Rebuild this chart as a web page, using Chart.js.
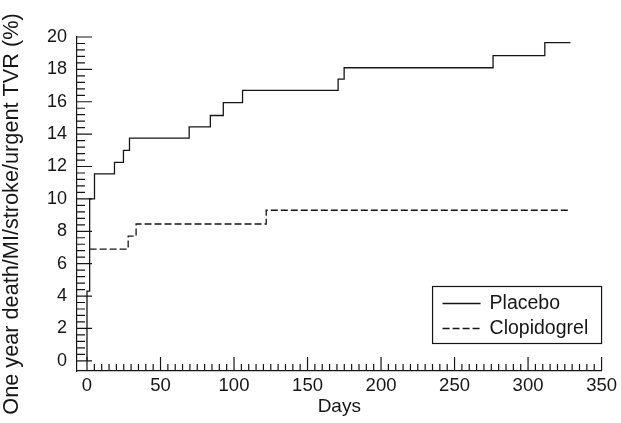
<!DOCTYPE html>
<html>
<head>
<meta charset="utf-8">
<script src="https://cdn.jsdelivr.net/npm/chart.js@4/dist/chart.umd.min.js"></script>
<style>
  html, body { margin: 0; padding: 0; background: #fff; }
  canvas { display: block; }
</style>
</head>
<body>
<canvas id="c" width="621" height="423"></canvas>
<script>
// ---- data ----
const placeboDays  = [0, 0, 1.8, 5.1, 18.7, 24.8, 28.9, 69.5, 83.9, 92.7, 105.8, 170.8, 174.9, 276.2, 311.4, 328.8];
const placeboRates = [0, 4.3, 10.0, 11.55, 12.25, 13.0, 13.75, 14.45, 15.15, 15.95, 16.7, 17.4, 18.1, 18.85, 19.65, 19.65];
const clopDays  = [1.8, 28.0, 33.4, 121.9, 328.8];
const clopRates = [6.9, 7.7, 8.45, 9.3, 9.3];
const seriesNames = ['Placebo', 'Clopidogrel'];
const xTickLabels = [0, 50, 100, 150, 200, 250, 300, 350];
const yTickLabels = [0, 2, 4, 6, 8, 10, 12, 14, 16, 18, 20];
const xTitle = 'Days';
const yTitle = 'One year death/MI/stroke/urgent TVR (%)';

const FONT = '"Liberation Sans", Arial, sans-serif';
const INK = '#161616';

const toPoints = (xs, ys) => xs.map((d, i) => ({ x: d, y: ys[i] }));

// minor / major tick marks pointing into the plot
const axisTicks = {
  id: 'axisTicks',
  afterDraw(chart) {
    const { ctx, chartArea: ca, scales: { x, y } } = chart;
    ctx.save();
    ctx.strokeStyle = INK;
    ctx.lineWidth = 1.2;
    ctx.beginPath();
    for (let i = 0; i <= 50; i++) {
      const py = y.getPixelForValue(i * 0.4);
      const len = (i % 5 === 0) ? 15 : 8;
      ctx.moveTo(ca.left, py);
      ctx.lineTo(ca.left + len, py);
    }
    for (let i = 0; i <= 70; i++) {
      const px = x.getPixelForValue(i * 5);
      const len = (i % 10 === 0) ? 14 : 7;
      ctx.moveTo(px, ca.bottom);
      ctx.lineTo(px, ca.bottom - len);
    }
    ctx.stroke();

    // rotated y-axis title
    ctx.fillStyle = INK;
    ctx.font = '21.7px ' + FONT;
    ctx.textAlign = 'center';
    ctx.textBaseline = 'middle';
    ctx.translate(12.5, 214);
    ctx.rotate(-Math.PI / 2);
    ctx.fillText(yTitle, 0, 0);
    ctx.restore();
  }
};

// boxed legend in the lower right of the plot
const boxLegend = {
  id: 'boxLegend',
  afterDraw(chart) {
    const { ctx, chartArea: ca } = chart;
    const w = 169, h = 57;
    const left = ca.right - w, top = ca.bottom - 27.5 - h;
    ctx.save();
    ctx.strokeStyle = INK;
    ctx.lineWidth = 1.2;
    ctx.strokeRect(left, top, w, h);
    const rowsY = [top + 17, top + 42];
    chart.data.datasets.forEach((ds, i) => {
      ctx.beginPath();
      ctx.setLineDash(ds.borderDash || []);
      ctx.strokeStyle = ds.borderColor;
      ctx.lineWidth = ds.borderWidth;
      ctx.moveTo(left + 10, rowsY[i]);
      ctx.lineTo(left + 48, rowsY[i]);
      ctx.stroke();
      ctx.setLineDash([]);
      ctx.fillStyle = INK;
      ctx.font = '19.5px ' + FONT;
      ctx.textAlign = 'left';
      ctx.textBaseline = 'middle';
      ctx.fillText(ds.label, left + 57, rowsY[i] + 0.5);
    });
    ctx.restore();
  }
};

new Chart(document.getElementById('c'), {
  type: 'line',
  data: {
    datasets: [
      {
        label: seriesNames[0],
        data: toPoints(placeboDays, placeboRates),
        stepped: 'before',
        borderColor: INK,
        borderWidth: 1.3,
        pointRadius: 0,
        fill: false
      },
      {
        label: seriesNames[1],
        data: toPoints(clopDays, clopRates),
        stepped: 'before',
        borderColor: INK,
        borderWidth: 1.3,
        borderDash: [7, 3],
        pointRadius: 0,
        fill: false
      }
    ]
  },
  options: {
    responsive: false,
    animation: false,
    devicePixelRatio: 1,
    layout: { padding: { left: 0, right: 17, top: 37, bottom: 0 } },
    plugins: {
      legend: { display: false },
      tooltip: { enabled: false }
    },
    scales: {
      x: {
        type: 'linear',
        min: -6.8,
        max: 350,
        afterBuildTicks(scale) { scale.ticks = xTickLabels.map(v => ({ value: v })); },
        afterFit(scale) { scale.height = 52; },
        grid: { display: false, drawTicks: false },
        border: { display: true, color: INK, width: 1.2 },
        ticks: { color: INK, font: { family: FONT, size: 18.5 }, padding: 4, maxRotation: 0, autoSkip: false },
        title: { display: true, text: xTitle, color: INK, font: { family: FONT, size: 19 }, padding: { top: 0, bottom: 5 } }
      },
      y: {
        type: 'linear',
        min: -0.63,
        max: 20,
        afterBuildTicks(scale) { scale.ticks = yTickLabels.map(v => ({ value: v })); },
        afterFit(scale) { scale.width = 77; },
        grid: { display: false, drawTicks: false },
        border: { display: true, color: INK, width: 1.2 },
        ticks: { color: INK, font: { family: FONT, size: 18 }, padding: 10, autoSkip: false }
      }
    }
  },
  plugins: [axisTicks, boxLegend]
});
</script>
</body>
</html>
